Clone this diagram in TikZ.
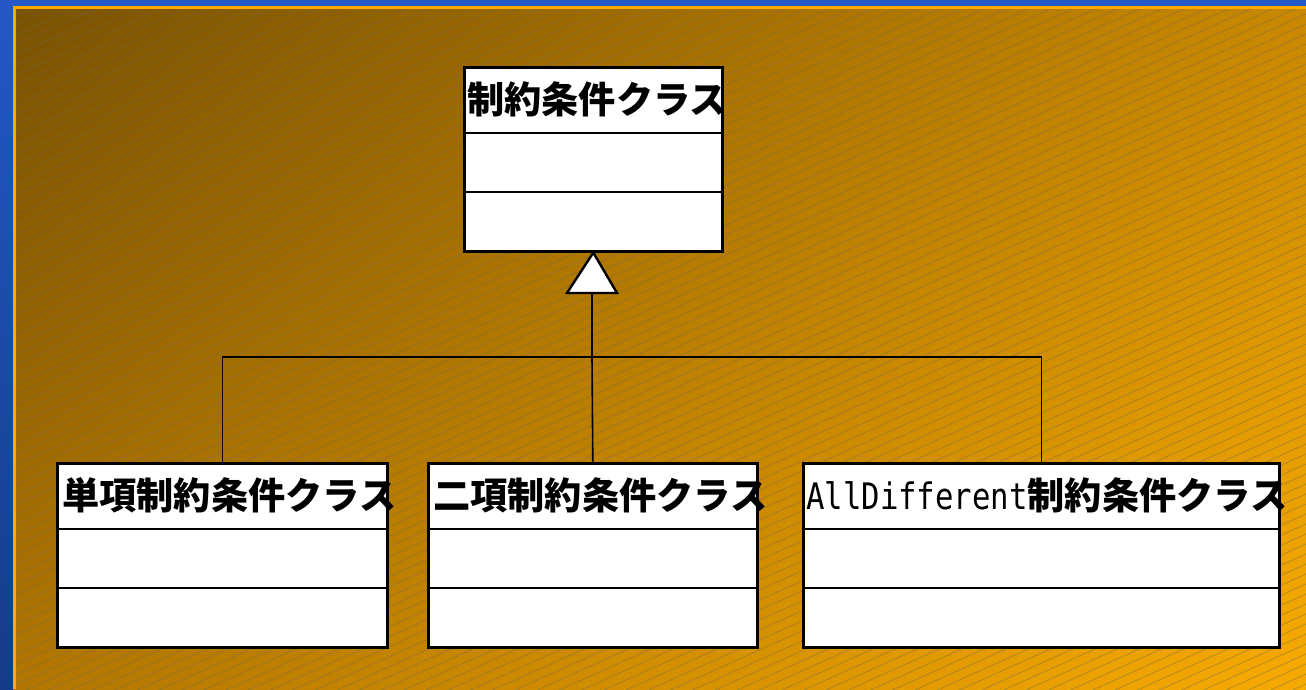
\documentclass[tikz,border=0pt]{standalone}
\usepackage{fontspec}
\usetikzlibrary{shadings}
\newfontfamily\jp{Noto Sans CJK JP}
\newfontfamily\lat{DejaVu Sans Mono}[FakeStretch=0.84]
\definecolor{bluetop}{HTML}{2458C8}
\definecolor{bluebot}{HTML}{163C88}
\definecolor{bgUL}{HTML}{7A5200}
\definecolor{bgUR}{HTML}{C98800}
\definecolor{bgLL}{HTML}{B27600}
\definecolor{bgLR}{HTML}{F7AA00}
\definecolor{framecol}{HTML}{FFA800}
\definecolor{hatchcol}{HTML}{6E6A60}
\begin{document}
\begin{tikzpicture}[x=1pt,y=-1pt,
  cls/.style={draw=black, line width=2.6pt, fill=white, minimum width=#1, minimum height=184pt, inner sep=0pt, anchor=north west},
  divider/.style={draw=black, line width=2.6pt},
  conn/.style={draw=black, line width=1.6pt},
  tri/.style={draw=black, line width=2.4pt, fill=white, line join=miter},
  lbl/.style={font=\jp\bfseries\fontsize{37.2}{40}\selectfont, inner sep=0pt, anchor=west},
  hatch/.style={draw=hatchcol, line width=0.8pt, opacity=0.45}]
\useasboundingbox (0,0) rectangle (1306,689);
% background
\shade[top color=bluetop, bottom color=bluebot] (0,0) rectangle (1306,689);
\begin{scope}
  \clip (13,6) rectangle (1306,689);
  \shade[upper left=bgUL, upper right=bgUR, lower left=bgLL, lower right=bgLR] (13,6) rectangle (1306,689);
  \foreach \i in {0,...,128} \draw[hatch] (13,6+\i*10) -- (1306,6+\i*10-582);
\end{scope}
\draw[framecol, line width=2.6pt] (14.3,689) -- (14.3,7.3) -- (1306,7.3);
% classes
\node[cls=258pt] (top) at (463,66) {};
\draw[divider] (463,133) -- (721,133);
\draw[divider] (463,192) -- (721,192);
\node[lbl] (ltop) at (467,99.5) {制約条件クラス};

\node[cls=330pt] (b1) at (56,462) {};
\draw[divider] (56,529) -- (386,529);
\draw[divider] (56,588) -- (386,588);
\node[lbl] (l1) at (62,495.5) {単項制約条件クラス};

\node[cls=329pt] (b2) at (427,462) {};
\draw[divider] (427,529) -- (756,529);
\draw[divider] (427,588) -- (756,588);
\node[lbl] (l2) at (433,495.5) {二項制約条件クラス};

\node[cls=476pt] (b3) at (802,462) {};
\draw[divider] (802,529) -- (1278,529);
\draw[divider] (802,588) -- (1278,588);
\node[lbl] (l3) at (806,495.5) {{\mdseries\lat\fontsize{36.5}{40}\selectfont AllDifferent}制約条件クラス};

% generalization
\coordinate (tb) at (592,293);
\coordinate (j) at (592,357);
\draw[conn] (tb) -- (j);
\draw[conn] (j) -| (b1.north);
\draw[conn] (j) -- (b2.north);
\draw[conn] (j) -| (b3.north);
\draw[tri] (top.south) -- (617,293) -- (567,293) -- cycle;
\end{tikzpicture}
\end{document}
